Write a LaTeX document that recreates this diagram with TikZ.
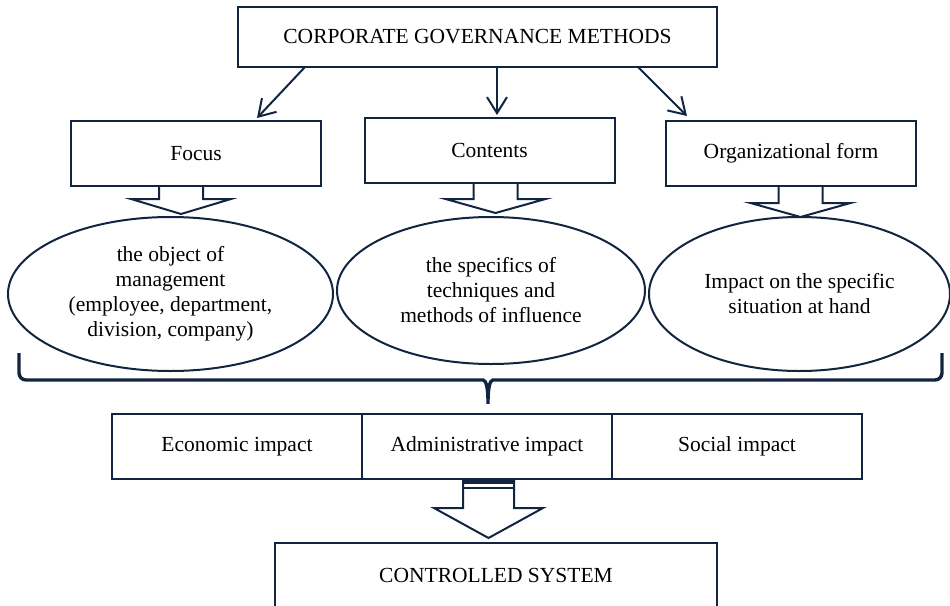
\documentclass[tikz,border=0pt]{standalone}
\usepackage{fontspec}
\setmainfont{Liberation Serif}
\usepackage{tikz}
\usetikzlibrary{positioning, calc, arrows.meta, shapes}
\definecolor{navy}{RGB}{17,37,64}
\tikzset{every picture/.style={font=\fontsize{21.5}{25}\selectfont}}
\tikzset{box/.style={draw=navy, line width=2pt, minimum width=250pt, minimum height=65pt, inner sep=0pt, outer sep=0pt, align=center}}
\tikzset{oval/.style={draw=navy, ellipse, line width=2pt, inner sep=0pt, align=center}}
\tikzset{link/.style={draw=navy, line width=2pt, -{Straight Barb[length=16pt,width=20pt,line width=2pt]}}}
\tikzset{fat/.style={draw=navy, line width=2pt, line join=miter}}
\tikzset{brace/.style={draw=navy, line width=3.4pt, rounded corners=7pt}}

% x, shaft top, head start, tip
\newcommand{\fatarrow}[4]{%
  \draw[fat] (#1-22,#2) -- (#1-22,#3) -- (#1-50,#3) -- (#1,#4) -- (#1+50,#3) -- (#1+22,#3) -- (#1+22,#2);}

\begin{document}
\begin{tikzpicture}[x=1pt, y=-1pt]
      \useasboundingbox (0,0) rectangle (950,605);

      % BOXES

      \node[box, minimum width=479pt, minimum height=60pt] (methods) at (477.5,37) {CORPORATE GOVERNANCE METHODS};
      \node[box] (focus) at (196,153.5) {Focus};
      \node[box] (contents) at (489.5,150.5) {Contents};
      \node[box] (orgform) at (791,153.5) {Organizational form};

      % OVALS

      \node[oval, minimum width=325pt, minimum height=154pt] (object) at (170.5,294)
        {the object of\\management\\(employee, department,\\division, company)};
      \node[oval, minimum width=308pt, minimum height=147pt] (specifics) at (491,290.5)
        {the specifics of\\techniques and\\methods of influence};
      \node[oval, minimum width=301pt, minimum height=154pt] (situation) at (799.5,294)
        {Impact on the specific\\situation at hand};

      % IMPACTS

      \node[box] (econ) at (237,446.5) {Economic impact};
      \node[box, right=0pt of econ] (admin) {Administrative impact};
      \node[box, right=0pt of admin] (social) {Social impact};

      \node[box, minimum width=442pt, minimum height=64pt] (ctrl) at (496,575) {CONTROLLED SYSTEM};

      % ARCS
      \draw[link] ([xshift=-172.5]methods.south) -- ([xshift=61,yshift=3]focus.north);
      \draw[link] ([xshift=19.5]methods.south) -- ([xshift=7.5,yshift=3]contents.north);
      \draw[link] ([xshift=160.5]methods.south) -- ([xshift=-104,yshift=5]orgform.north);

      \fatarrow{181}{186}{199}{214}
      \fatarrow{495.5}{183}{199}{213}
      \fatarrow{800.5}{186}{203}{217}

      % BRACE
      \coordinate (braceL) at (19,353);
      \coordinate (braceR) at (942,353);
      \coordinate (braceTip) at ($(admin.north)+(1,-6)$);
      \draw[brace] (braceL) -- (19,380) -- (476,380)
        .. controls (486,380) and (488,388) .. (braceTip)
        .. controls (488,388) and (490,380) .. (500,380) -- (942,380) -- (braceR);

      % TO THE CONTROLLED SYSTEM
      \draw[fat] (463,480) -- (463,508) -- (434,508) -- (488.5,538) -- (543,508) -- (514,508) -- (514,480);
      \fill[navy] (463,478) rectangle (514,484);
      \draw[navy, line width=1.4pt] (463,488) -- (514,488);
    \end{tikzpicture}
\end{document}
